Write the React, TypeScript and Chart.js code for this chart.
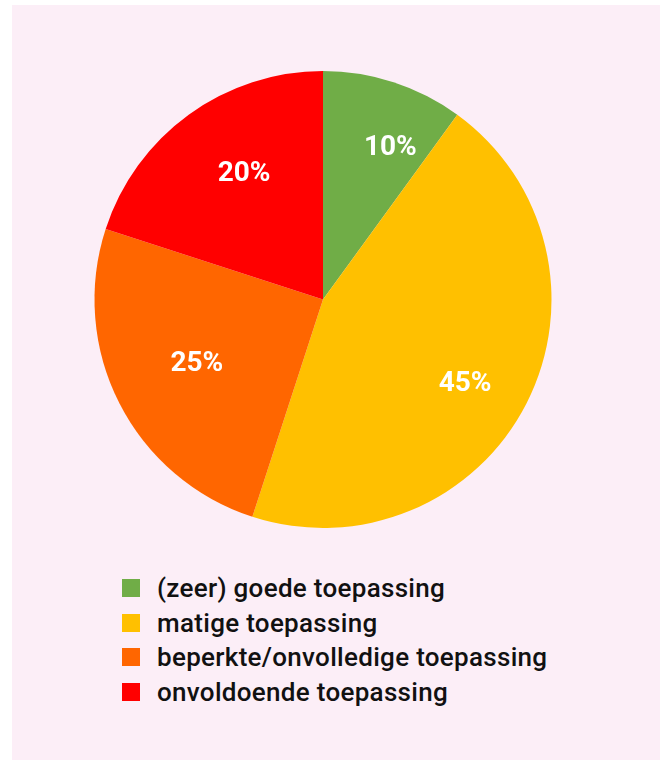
import React, { useEffect, useRef } from "react";
import { Chart, registerables } from "chart.js";

Chart.register(...registerables);

const categories = [
  "(zeer) goede toepassing",
  "matige toepassing",
  "beperkte/onvolledige toepassing",
  "onvoldoende toepassing",
];
const values = [10, 45, 25, 20];
const valueLabels = ["10%", "45%", "25%", "20%"];
const colors = ["#70AD47", "#FFC000", "#FF6600", "#FF0000"];
const labelRadiusFactors = [0.728, 0.721, 0.618, 0.653];
const labelAngleOffsetsDeg = [5.9, 3.4, 0.3, 4.1];

const FONT = "Roboto, 'DejaVu Sans', sans-serif";

const labelPlugin = {
  id: "sliceLabels",
  afterDatasetsDraw(chart: any) {
    const ctx = chart.ctx;
    const meta = chart.getDatasetMeta(0);
    ctx.save();
    ctx.font = `bold 28px ${FONT}`;
    ctx.fillStyle = "#ffffff";
    ctx.textAlign = "center";
    ctx.textBaseline = "middle";
    meta.data.forEach((arc: any, i: number) => {
      const { x, y, startAngle, endAngle, outerRadius } = arc.getProps(
        ["x", "y", "startAngle", "endAngle", "outerRadius"],
        true
      );
      const mid = (startAngle + endAngle) / 2 + (labelAngleOffsetsDeg[i] * Math.PI) / 180;
      const r = outerRadius * labelRadiusFactors[i];
      ctx.fillText(valueLabels[i], x + Math.cos(mid) * r, y + Math.sin(mid) * r + 1);
    });
    ctx.restore();
  },
};

export default function App() {
  const ref = useRef<HTMLCanvasElement>(null);
  useEffect(() => {
    if (!ref.current) return;
    const chart = new Chart(ref.current, {
      type: "pie",
      data: {
        labels: categories,
        datasets: [
          {
            data: values,
            backgroundColor: colors,
            borderWidth: 0,
          },
        ],
      },
      options: {
        animation: false,
        responsive: false,
        maintainAspectRatio: false,
        layout: { padding: { top: 66, bottom: 37, left: 0, right: 0 } },
        plugins: {
          legend: { display: false },
          tooltip: { enabled: false },
        },
      },
      plugins: [labelPlugin],
    });
    return () => chart.destroy();
  }, []);

  return (
    <div
      style={{
        position: "absolute",
        left: 12,
        top: 5,
        width: 648,
        height: 755,
        background: "#FCEEF7",
      }}
    >
      <canvas
        ref={ref}
        width={622}
        height={560}
        style={{ position: "absolute", left: 0, top: 0, width: 622, height: 560 }}
      />
      <div style={{ position: "absolute", left: 110, top: 566 }}>
        {categories.map((c, i) => (
          <div
            key={c}
            style={{
              display: "flex",
              alignItems: "center",
              height: 34.5,
              fontFamily: FONT,
              fontSize: 26,
              fontWeight: 500,
              letterSpacing: "0.3px",
              color: "#111",
              whiteSpace: "nowrap",
            }}
          >
            <span
              style={{
                display: "inline-block",
                width: 18,
                height: 18,
                background: colors[i],
                marginRight: 17,
              }}
            />
            <span>{c}</span>
          </div>
        ))}
      </div>
    </div>
  );
}
